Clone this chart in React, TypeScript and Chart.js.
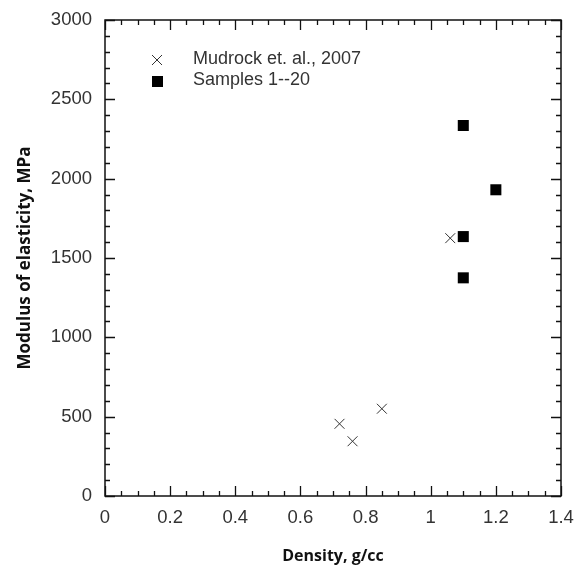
import React, { useEffect, useRef } from "react";
import { Chart, registerables } from "chart.js";

Chart.register(...registerables);

// ---- data ----
const mudrockDensity = [1.06, 0.72, 0.76, 0.85];
const mudrockModulus = [1625, 455, 345, 550];
const sampleDensity = [1.1, 1.2, 1.1, 1.1];
const sampleModulus = [2335, 1930, 1635, 1375];

const legendLabels = ["Mudrock et. al., 2007", "Samples 1--20"];
const xTitle = "Density, g/cc";
const yTitle = "Modulus of elasticity, MPa";

const X_MIN = 0, X_MAX = 1.4, X_STEP = 0.2, X_MINOR = 0.05;
const Y_MIN = 0, Y_MAX = 3000, Y_STEP = 500, Y_MINOR = 100;

const frameTicks = {
  id: "frameTicks",
  afterDatasetsDraw(chart: any) {
    const { ctx, chartArea: a } = chart;
    const xs = chart.scales.x;
    const ys = chart.scales.y;
    ctx.save();
    ctx.strokeStyle = "#111";
    ctx.lineWidth = 1.5;
    ctx.strokeRect(a.left, a.top, a.right - a.left, a.bottom - a.top);
    ctx.lineWidth = 1.3;
    ctx.beginPath();
    const nx = Math.round((X_MAX - X_MIN) / X_MINOR);
    for (let i = 0; i <= nx; i++) {
      const v = X_MIN + i * X_MINOR;
      const major = i % Math.round(X_STEP / X_MINOR) === 0;
      const len = major ? 10 : 5;
      const px = Math.round(xs.getPixelForValue(v)) + 0.5;
      ctx.moveTo(px, a.bottom);
      ctx.lineTo(px, a.bottom - len);
      ctx.moveTo(px, a.top);
      ctx.lineTo(px, a.top + len);
    }
    const ny = Math.round((Y_MAX - Y_MIN) / Y_MINOR);
    for (let i = 0; i <= ny; i++) {
      const v = Y_MIN + i * Y_MINOR;
      const major = i % Math.round(Y_STEP / Y_MINOR) === 0;
      const len = major ? 10 : 5;
      const py = Math.round(ys.getPixelForValue(v)) + 0.5;
      ctx.moveTo(a.left, py);
      ctx.lineTo(a.left + len, py);
      ctx.moveTo(a.right, py);
      ctx.lineTo(a.right - len, py);
    }
    ctx.stroke();

    // legend
    const lx = a.left + 52;
    const ly1 = a.top + 40;
    const ly2 = a.top + 62;
    ctx.strokeStyle = "#333";
    ctx.lineWidth = 1;
    ctx.beginPath();
    ctx.moveTo(lx - 5, ly1 - 5);
    ctx.lineTo(lx + 5, ly1 + 5);
    ctx.moveTo(lx + 5, ly1 - 5);
    ctx.lineTo(lx - 5, ly1 + 5);
    ctx.stroke();
    ctx.fillStyle = "#000";
    ctx.fillRect(lx - 5, ly2 - 6, 11, 11);
    ctx.fillStyle = "#333";
    ctx.font = "18px 'Liberation Sans', Arial, sans-serif";
    ctx.textBaseline = "middle";
    ctx.textAlign = "left";
    ctx.fillText(legendLabels[0], a.left + 88, ly1 - 1);
    ctx.fillText(legendLabels[1], a.left + 88, ly2 - 2);
    ctx.restore();
  },
};

export default function App() {
  const ref = useRef<HTMLCanvasElement>(null);
  useEffect(() => {
    if (!ref.current) return;
    const tickFont = { family: "'Liberation Sans', Arial, sans-serif", size: 18.5 };
    const xTitleFont = { family: "'Open Sans', sans-serif", size: 16, weight: "bold" as const };
    const yTitleFont = { family: "'Open Sans', sans-serif", size: 17, weight: "bold" as const };
    const chart = new Chart(ref.current, {
      type: "scatter",
      data: {
        datasets: [
          {
            label: legendLabels[0],
            data: mudrockDensity.map((x, i) => ({ x, y: mudrockModulus[i] })),
            pointStyle: "crossRot",
            pointRadius: 7,
            borderColor: "#333",
            borderWidth: 1,
            backgroundColor: "#333",
          },
          {
            label: legendLabels[1],
            data: sampleDensity.map((x, i) => ({ x, y: sampleModulus[i] })),
            pointStyle: "rect",
            pointRadius: 7.8,
            borderColor: "#000",
            borderWidth: 0,
            backgroundColor: "#000",
          },
        ],
      },
      options: {
        animation: false,
        responsive: false,
        layout: { padding: { top: 20, right: 14, left: 0, bottom: 0 } },
        plugins: { legend: { display: false }, tooltip: { enabled: false } },
        scales: {
          x: {
            type: "linear",
            min: X_MIN,
            max: X_MAX,
            afterFit: (s: any) => {
              s.height = 75;
              s.paddingLeft = 0;
              s.paddingRight = 0;
            },
            ticks: {
              stepSize: X_STEP,
              font: tickFont,
              color: "#333",
              padding: 11,
              maxRotation: 0,
              callback: (v: any) => String(Math.round(Number(v) * 10) / 10),
            },
            grid: { display: false, drawTicks: false },
            border: { display: false },
            title: { display: true, text: xTitle, font: xTitleFont, color: "#111", padding: { top: 0, bottom: 5 } },
          },
          y: {
            type: "linear",
            min: Y_MIN,
            max: Y_MAX,
            afterFit: (s: any) => {
              s.width = 105;
              s.paddingTop = 0;
              s.paddingBottom = 0;
            },
            ticks: {
              stepSize: Y_STEP,
              font: tickFont,
              color: "#333",
              padding: 13,
              callback: (v: any) => String(v),
            },
            grid: { display: false, drawTicks: false },
            border: { display: false },
            title: { display: true, text: yTitle, font: yTitleFont, color: "#111", padding: { top: 15, bottom: 0 } },
          },
        },
      },
      plugins: [frameTicks],
    });
    return () => chart.destroy();
  }, []);
  return (
    <div style={{ position: "fixed", left: 0, top: 0, width: 575, height: 571, background: "#fff" }}>
      <canvas ref={ref} width={575} height={571} style={{ width: 575, height: 571, display: "block" }} />
    </div>
  );
}
